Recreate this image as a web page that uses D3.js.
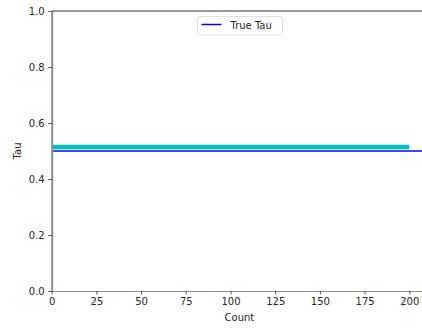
<!DOCTYPE html>
<html lang="en">
<head>
<meta charset="UTF-8">
<title>Tau estimate</title>
<script src="https://d3js.org/d3.v7.min.js"></script>
<style>
  body { margin: 0; background: #fff; }
  text { font-family: "DejaVu Sans", sans-serif; }
</style>
</head>
<body>
<div id="chart"></div>
<script>
// data
const estCounts = [0, 200];
const estTau = [0.514, 0.514];
const trueTau = 0.5;
const xTicks = [0, 25, 50, 75, 100, 125, 150, 175, 200];
const yTicks = [0.0, 0.2, 0.4, 0.6, 0.8, 1.0];

const width = 422, height = 329;
const mLeft = 51.7, mTop = 11, mBottom = 291;

const svg = d3.select("#chart").append("svg")
    .attr("width", width)
    .attr("height", height);

const x = d3.scaleLinear().domain([0, 210]).range([mLeft, mLeft + 210 * 1.788]);
const y = d3.scaleLinear().domain([0, 1]).range([mBottom, mTop]);

// estimate band
const est = estCounts.map((c, i) => [c, estTau[i]]);
svg.append("path")
    .datum(est)
    .attr("d", d3.line().x(d => x(d[0])).y(d => y(d[1])))
    .attr("fill", "none")
    .attr("stroke", "#00bfbf")
    .attr("stroke-width", 4.5);

// true tau line
svg.append("line")
    .attr("x1", x(0)).attr("x2", x(210))
    .attr("y1", y(trueTau)).attr("y2", y(trueTau))
    .attr("stroke", "#0000ff")
    .attr("stroke-width", 1.5);

// axes
const xAxis = svg.append("g")
    .attr("transform", `translate(0,${mBottom})`)
    .call(d3.axisBottom(x).tickValues(xTicks).tickSize(3.5).tickSizeOuter(0).tickPadding(3.5).tickFormat(d3.format("d")));
const yAxis = svg.append("g")
    .attr("transform", `translate(${mLeft},0)`)
    .call(d3.axisLeft(y).tickValues(yTicks).tickSize(3.5).tickSizeOuter(0).tickPadding(3.5).tickFormat(d3.format(".1f")));

[xAxis, yAxis].forEach(g => {
  g.selectAll("text").attr("font-size", 10).attr("fill", "#262626").attr("font-family", "DejaVu Sans, sans-serif");
  g.selectAll(".tick line").attr("stroke", "#262626").attr("stroke-width", 0.8);
});
xAxis.select(".domain").attr("stroke", "#8c8c8c").attr("stroke-width", 1.2);
yAxis.select(".domain").attr("stroke", "#8c8c8c").attr("stroke-width", 2);

// top spine
svg.append("line")
    .attr("x1", mLeft).attr("x2", width)
    .attr("y1", mTop).attr("y2", mTop)
    .attr("stroke", "#333")
    .attr("stroke-width", 1);

// labels
svg.append("text")
    .attr("x", (x(0) + x(210)) / 2)
    .attr("y", 321)
    .attr("text-anchor", "middle")
    .attr("font-size", 10)
    .attr("fill", "#262626")
    .text("Count");
svg.append("text")
    .attr("transform", `translate(21,${(mTop + mBottom) / 2}) rotate(-90)`)
    .attr("text-anchor", "middle")
    .attr("font-size", 10)
    .attr("fill", "#262626")
    .text("Tau");

// legend
const lg = svg.append("g").attr("transform", "translate(197.5,16.5)");
lg.append("rect")
    .attr("width", 85).attr("height", 18.5)
    .attr("rx", 2)
    .attr("fill", "#fff")
    .attr("stroke", "#d9d9d9")
    .attr("stroke-width", 0.8);
lg.append("line")
    .attr("x1", 4).attr("x2", 24)
    .attr("y1", 8).attr("y2", 8)
    .attr("stroke", "#0000ff")
    .attr("stroke-width", 1.5);
lg.append("text")
    .attr("x", 33).attr("y", 12)
    .attr("font-size", 10)
    .attr("fill", "#262626")
    .text("True Tau");
</script>
</body>
</html>
